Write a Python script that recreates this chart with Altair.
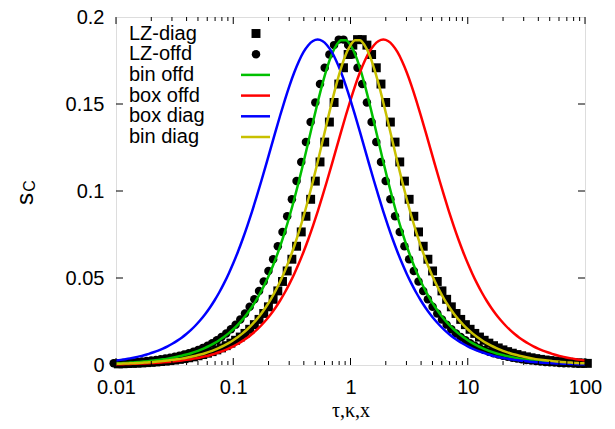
import altair as alt
import numpy as np
import pandas as pd

# x sample positions (log-spaced, 0.01 .. 100)
x_vals = list(np.logspace(-2, 2, 101))
# symbol sample positions (log-spaced, slightly offset)
x_offd = list(np.logspace(-2.02, 1.98, 101))
x_diag = list(np.logspace(-1.98, 2.02, 101))

box_diag = [0.00258, 0.00294, 0.00335, 0.00381, 0.00435, 0.00495, 0.00564, 0.00641, 0.00730, 0.00830,
            0.00944, 0.01073, 0.01219, 0.01385, 0.01571, 0.01782, 0.02019, 0.02285, 0.02584, 0.02918,
            0.03291, 0.03706, 0.04166, 0.04674, 0.05233, 0.05844, 0.06510, 0.07229, 0.08000, 0.08821,
            0.09687, 0.10590, 0.11521, 0.12466, 0.13411, 0.14338, 0.15228, 0.16060, 0.16811, 0.17460,
            0.17989, 0.18379, 0.18619, 0.18700,
            0.18619, 0.18379, 0.17989, 0.17460, 0.16811, 0.16060, 0.15228, 0.14338, 0.13411, 0.12466,
            0.11521, 0.10590, 0.09687, 0.08821, 0.08000, 0.07229, 0.06510, 0.05844, 0.05233, 0.04674,
            0.04166, 0.03706, 0.03291, 0.02918, 0.02584, 0.02285, 0.02019, 0.01782, 0.01571, 0.01385,
            0.01219, 0.01073, 0.00944, 0.00830, 0.00730, 0.00641, 0.00564, 0.00495, 0.00435, 0.00381,
            0.00335, 0.00294, 0.00258, 0.00226, 0.00199, 0.00174, 0.00153, 0.00134, 0.00118, 0.00103,
            0.00090, 0.00079, 0.00069, 0.00061, 0.00053, 0.00047, 0.00041]

box_offd = [0.00041, 0.00047, 0.00053, 0.00061, 0.00069, 0.00079, 0.00090, 0.00103, 0.00118, 0.00134,
            0.00153, 0.00174, 0.00199, 0.00226, 0.00258, 0.00294, 0.00335, 0.00381, 0.00435, 0.00495,
            0.00564, 0.00641, 0.00730, 0.00830, 0.00944, 0.01073, 0.01219, 0.01385, 0.01571, 0.01782,
            0.02019, 0.02285, 0.02584, 0.02918, 0.03291, 0.03706, 0.04166, 0.04674, 0.05233, 0.05844,
            0.06510, 0.07229, 0.08000, 0.08821, 0.09687, 0.10590, 0.11521, 0.12466, 0.13411, 0.14338,
            0.15228, 0.16060, 0.16811, 0.17460, 0.17989, 0.18379, 0.18619, 0.18700,
            0.18619, 0.18379, 0.17989, 0.17460, 0.16811, 0.16060, 0.15228, 0.14338, 0.13411, 0.12466,
            0.11521, 0.10590, 0.09687, 0.08821, 0.08000, 0.07229, 0.06510, 0.05844, 0.05233, 0.04674,
            0.04166, 0.03706, 0.03291, 0.02918, 0.02584, 0.02285, 0.02019, 0.01782, 0.01571, 0.01385,
            0.01219, 0.01073, 0.00944, 0.00830, 0.00730, 0.00641, 0.00564, 0.00495, 0.00435, 0.00381,
            0.00335, 0.00294, 0.00258]

bin_offd = [0.00094, 0.00107, 0.00121, 0.00137, 0.00155, 0.00175, 0.00198, 0.00224, 0.00253, 0.00286,
            0.00324, 0.00367, 0.00415, 0.00469, 0.00531, 0.00600, 0.00679, 0.00768, 0.00869, 0.00982,
            0.01111, 0.01257, 0.01421, 0.01606, 0.01816, 0.02053, 0.02320, 0.02621, 0.02961, 0.03344,
            0.03775, 0.04259, 0.04800, 0.05405, 0.06079, 0.06825, 0.07648, 0.08548, 0.09523, 0.10568,
            0.11670, 0.12811, 0.13962, 0.15089, 0.16146, 0.17082, 0.17844, 0.18384, 0.18664,
            0.18664, 0.18384, 0.17844, 0.17082, 0.16146, 0.15089, 0.13962, 0.12811, 0.11670, 0.10568,
            0.09523, 0.08548, 0.07648, 0.06825, 0.06079, 0.05405, 0.04800, 0.04259, 0.03775, 0.03344,
            0.02961, 0.02621, 0.02320, 0.02053, 0.01816, 0.01606, 0.01421, 0.01257, 0.01111, 0.00982,
            0.00869, 0.00768, 0.00679, 0.00600, 0.00531, 0.00469, 0.00415, 0.00367, 0.00324, 0.00286,
            0.00253, 0.00224, 0.00198, 0.00175, 0.00155, 0.00137, 0.00121, 0.00107, 0.00094, 0.00084,
            0.00074, 0.00065]

bin_diag = [0.00065, 0.00074, 0.00084, 0.00094, 0.00107, 0.00121, 0.00137, 0.00155, 0.00175, 0.00198,
            0.00224, 0.00253, 0.00286, 0.00324, 0.00367, 0.00415, 0.00469, 0.00531, 0.00600, 0.00679,
            0.00768, 0.00869, 0.00982, 0.01111, 0.01257, 0.01421, 0.01606, 0.01816, 0.02053, 0.02320,
            0.02621, 0.02961, 0.03344, 0.03775, 0.04259, 0.04800, 0.05405, 0.06079, 0.06825, 0.07648,
            0.08548, 0.09523, 0.10568, 0.11670, 0.12811, 0.13962, 0.15089, 0.16146, 0.17082, 0.17844,
            0.18384, 0.18664,
            0.18664, 0.18384, 0.17844, 0.17082, 0.16146, 0.15089, 0.13962, 0.12811, 0.11670, 0.10568,
            0.09523, 0.08548, 0.07648, 0.06825, 0.06079, 0.05405, 0.04800, 0.04259, 0.03775, 0.03344,
            0.02961, 0.02621, 0.02320, 0.02053, 0.01816, 0.01606, 0.01421, 0.01257, 0.01111, 0.00982,
            0.00869, 0.00768, 0.00679, 0.00600, 0.00531, 0.00469, 0.00415, 0.00367, 0.00324, 0.00286,
            0.00253, 0.00224, 0.00198, 0.00175, 0.00155, 0.00137, 0.00121, 0.00107, 0.00094]

lz_offd = [0.00094, 0.00107, 0.00121, 0.00137, 0.00155, 0.00175, 0.00198, 0.00224, 0.00253, 0.00286,
           0.00324, 0.00367, 0.00415, 0.00469, 0.00531, 0.00600, 0.00679, 0.00768, 0.00869, 0.00982,
           0.01111, 0.01257, 0.01421, 0.01606, 0.01816, 0.02053, 0.02320, 0.02621, 0.02961, 0.03344,
           0.03775, 0.04259, 0.04800, 0.05405, 0.06079, 0.06825, 0.07648, 0.08548, 0.09523, 0.10568,
           0.11670, 0.12811, 0.13962, 0.15089, 0.16146, 0.17082, 0.17844, 0.18384, 0.18700,
           0.18700, 0.18384, 0.17844, 0.17082, 0.16146, 0.15089, 0.13962, 0.12811, 0.11670, 0.10568,
           0.09523, 0.08548, 0.07648, 0.06825, 0.06079, 0.05405, 0.04800, 0.04259, 0.03775, 0.03344,
           0.02961, 0.02621, 0.02320, 0.02053, 0.01816, 0.01606, 0.01421, 0.01257, 0.01111, 0.00982,
           0.00869, 0.00768, 0.00679, 0.00600, 0.00531, 0.00469, 0.00415, 0.00367, 0.00324, 0.00286,
           0.00253, 0.00224, 0.00198, 0.00175, 0.00155, 0.00137, 0.00121, 0.00107, 0.00094, 0.00084,
           0.00074, 0.00065]

lz_diag = [0.00065, 0.00074, 0.00084, 0.00094, 0.00107, 0.00121, 0.00137, 0.00155, 0.00175, 0.00198,
           0.00224, 0.00253, 0.00286, 0.00324, 0.00367, 0.00415, 0.00469, 0.00531, 0.00600, 0.00679,
           0.00768, 0.00869, 0.00982, 0.01111, 0.01257, 0.01421, 0.01606, 0.01816, 0.02053, 0.02320,
           0.02621, 0.02961, 0.03344, 0.03775, 0.04259, 0.04800, 0.05405, 0.06079, 0.06825, 0.07648,
           0.08548, 0.09523, 0.10568, 0.11670, 0.12811, 0.13962, 0.15089, 0.16146, 0.17082, 0.17844,
           0.18384, 0.18700,
           0.18700, 0.18384, 0.17844, 0.17082, 0.16146, 0.15089, 0.13962, 0.12811, 0.11670, 0.10568,
           0.09523, 0.08548, 0.07648, 0.06825, 0.06079, 0.05405, 0.04800, 0.04259, 0.03775, 0.03344,
           0.02961, 0.02621, 0.02320, 0.02053, 0.01816, 0.01606, 0.01421, 0.01257, 0.01111, 0.00982,
           0.00869, 0.00768, 0.00679, 0.00600, 0.00531, 0.00469, 0.00415, 0.00367, 0.00324, 0.00286,
           0.00253, 0.00224, 0.00198, 0.00175, 0.00155, 0.00137, 0.00121, 0.00107, 0.00094]

x_tick_values = [0.01, 0.1, 1, 10, 100]
x_minor_values = [m * d for d in [0.01, 0.1, 1, 10] for m in range(2, 10)]
y_tick_values = [0, 0.05, 0.1, 0.15, 0.2]
legend_labels = ["LZ-diag", "LZ-offd", "bin offd", "box offd", "box diag", "bin diag"]

W, H = 469, 348
FONT = "Liberation Sans"

xs = alt.Scale(type="log", domain=[0.01, 100])
ys = alt.Scale(domain=[0, 0.2])

X_AXIS = alt.Axis(values=x_tick_values, format="~g", title="τ,κ,x",
                  titleFont="Liberation Serif", titleFontSize=20,
                  titleFontWeight="normal", titlePadding=3,
                  labelFontSize=20, labelFont=FONT, labelPadding=12,
                  labelFlush=False, labelOverlap=False,
                  ticks=False, grid=False, domain=False,
                  labelColor="black", titleColor="black")
Y_AXIS = alt.Axis(values=y_tick_values, format="~g", title=None,
                  labelFontSize=20, labelFont=FONT, labelPadding=12,
                  labelFlush=False, labelOverlap=False,
                  ticks=False, grid=False, domain=False,
                  labelColor="black")
X = alt.X("x:Q", scale=xs, axis=X_AXIS)
Y = alt.Y("y:Q", scale=ys, axis=Y_AXIS)


def series_df(xv, vals):
    return pd.DataFrame({"x": xv, "y": vals})


sq = alt.Chart(series_df(x_diag, lz_diag)).mark_point(shape="square", filled=True, size=80,
                                                      color="black", opacity=1).encode(x=X, y=Y)
ci = alt.Chart(series_df(x_offd, lz_offd)).mark_circle(size=72, color="black",
                                                       opacity=1).encode(x=X, y=Y)


def line(vals, color):
    return alt.Chart(series_df(x_vals, vals)).mark_line(color=color, strokeWidth=2.5,
                                                        interpolate="monotone").encode(x=X, y=Y)


GREEN, RED, BLUE, YELLOW = "#00c000", "#ff0000", "#0000ff", "#c8c000"
layers = [sq, ci, line(bin_offd, GREEN), line(box_offd, RED), line(box_diag, BLUE), line(bin_diag, YELLOW)]

# tick marks (inside, mirrored)
xmaj = pd.DataFrame({"x": x_tick_values})
xmin = pd.DataFrame({"x": x_minor_values})
ytk = pd.DataFrame({"y": y_tick_values[1:-1]})
for df, ln in [(xmaj, 7), (xmin, 4)]:
    layers.append(alt.Chart(df).mark_rule(color="black", strokeWidth=1).encode(
        x=X, y=alt.value(H), y2=alt.value(H - ln)))
    layers.append(alt.Chart(df).mark_rule(color="black", strokeWidth=1).encode(
        x=X, y=alt.value(0), y2=alt.value(ln)))
layers.append(alt.Chart(ytk).mark_rule(color="black", strokeWidth=1).encode(
    y=Y, x=alt.value(0), x2=alt.value(7)))
layers.append(alt.Chart(ytk).mark_rule(color="black", strokeWidth=1).encode(
    y=Y, x=alt.value(W), x2=alt.value(W - 7)))

# legend
colors = [None, None, GREEN, RED, BLUE, YELLOW]
for i, (lab, col) in enumerate(zip(legend_labels, colors)):
    yy = 16.5 + 20.7 * i
    one = pd.DataFrame({"label": [lab]})
    layers.append(alt.Chart(one).mark_text(align="left", baseline="middle", font=FONT,
                                           fontSize=20, color="black").encode(
        text="label:N", x=alt.value(13), y=alt.value(yy)))
    if i == 0:
        layers.append(alt.Chart(one).mark_point(shape="square", filled=True, size=80, color="black",
                                                opacity=1).encode(x=alt.value(140), y=alt.value(yy)))
    elif i == 1:
        layers.append(alt.Chart(one).mark_circle(size=72, color="black", opacity=1).encode(
            x=alt.value(140), y=alt.value(yy)))
    else:
        layers.append(alt.Chart(one).mark_rule(color=col, strokeWidth=2.5).encode(
            x=alt.value(125), x2=alt.value(154), y=alt.value(yy)))

# y-axis title s_C
t1 = pd.DataFrame({"t": ["s"]})
t2 = pd.DataFrame({"t": ["C"]})
layers.append(alt.Chart(t1).mark_text(angle=270, font=FONT, fontSize=24, color="black",
                                      align="center", baseline="middle").encode(
    text="t:N", x=alt.value(-90), y=alt.value(182)))
layers.append(alt.Chart(t2).mark_text(angle=270, font=FONT, fontSize=16, color="black",
                                      align="center", baseline="middle").encode(
    text="t:N", x=alt.value(-86), y=alt.value(169)))

chart = alt.layer(*layers).properties(
    width=W, height=H,
    autosize=alt.AutoSizeParams(type="none"),
    padding={"left": 108, "top": 9, "right": 22, "bottom": 56},
).configure_view(stroke="black", strokeWidth=1.2).configure(background="white")

chart.save("out.html", embed_options={"renderer": "svg", "actions": False})
